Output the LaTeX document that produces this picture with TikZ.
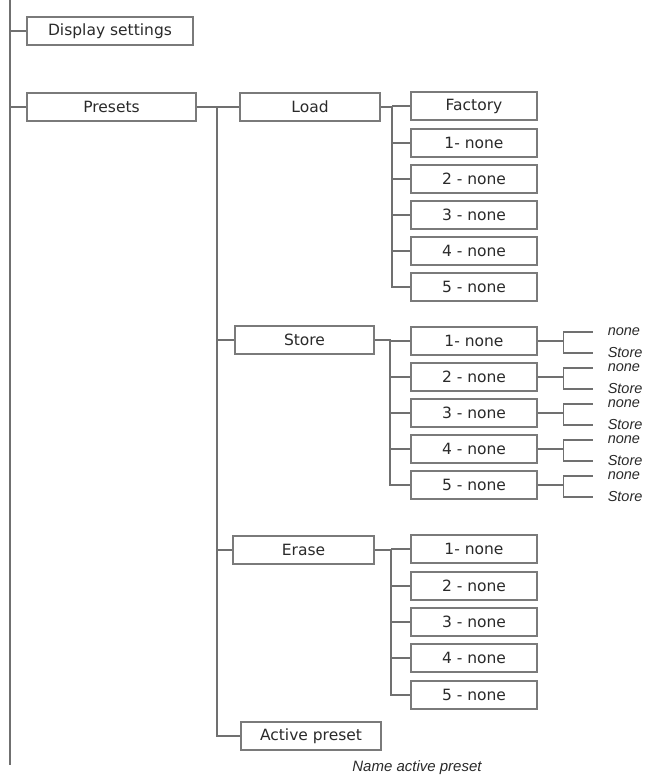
\documentclass[tikz,border=0pt]{standalone}
\usepackage{fontspec}
\setmainfont{DejaVu Sans}
\newfontfamily\itfont{Liberation Sans}
\definecolor{linegray}{HTML}{707070}
\definecolor{boxgray}{HTML}{7A7A7A}
\definecolor{txt}{HTML}{2A2A2A}
\begin{document}
\begin{tikzpicture}[x=1pt,y=-1pt,
  menubox/.style={draw=boxgray,line width=1.1pt,fill=white,minimum height=28pt,inner sep=0pt,
    font=\fontsize{15.5}{18}\selectfont,text=txt},
  conn/.style={draw=linegray,line width=1.1pt},
  itext/.style={font=\itfont\itshape\fontsize{14.5}{16}\selectfont,text=txt,inner sep=0pt,anchor=west}]
\useasboundingbox (0,0) rectangle (645,780);
% main line
\coordinate (mtop) at (10,0);
\coordinate (mbot) at (10,765);
\draw[conn] (mtop) -- (mbot);
% level 1
\node[menubox,minimum width=166pt] (disp) at (110,31) {Display settings};
\node[menubox,minimum width=169pt] (presets) at (111.5,107) {Presets};
\draw[conn] (disp.west) -- (disp.west -| mtop);
\draw[conn] (presets.west) -- (presets.west -| mtop);
% level 2
\node[menubox,minimum width=140pt] (load) at (310,107) {Load};
\node[menubox,minimum width=139pt] (store) at (304.5,340) {Store};
\node[menubox,minimum width=141pt] (erase) at (303.5,550) {Erase};
\node[menubox,minimum width=140pt] (active) at (311,736) {Active preset};
\node[font=\itfont\itshape\fontsize{15}{18}\selectfont,text=txt,inner sep=0pt] (nap) at (417,768) {Name active preset};
\coordinate (pj) at (217,107);
\draw[conn] (presets.east) -- (pj) -- (pj |- active.west) -- (active.west);
\draw[conn] (pj |- load.west) -- (load.west);
\draw[conn] (pj |- store.west) -- (store.west);
\draw[conn] (pj |- erase.west) -- (erase.west);
% load children
\node[menubox,minimum width=126pt] (lf) at (474,106) {Factory};
\node[menubox,minimum width=126pt] (l1) at (474,143) {1- none};
\node[menubox,minimum width=126pt] (l2) at (474,179) {2 - none};
\node[menubox,minimum width=126pt] (l3) at (474,215) {3 - none};
\node[menubox,minimum width=126pt] (l4) at (474,251) {4 - none};
\node[menubox,minimum width=126pt] (l5) at (474,287) {5 - none};
\coordinate (lj) at (392,107);
\draw[conn] (load.east) -- (lj) -- (lj |- l5.west) -- (l5.west);
\foreach \n in {lf,l1,l2,l3,l4} \draw[conn] (lj |- \n.west) -- (\n.west);
% store children
\node[menubox,minimum width=126pt] (s1) at (474,341) {1- none};
\node[menubox,minimum width=126pt] (s2) at (474,377) {2 - none};
\node[menubox,minimum width=126pt] (s3) at (474,413) {3 - none};
\node[menubox,minimum width=126pt] (s4) at (474,449) {4 - none};
\node[menubox,minimum width=126pt] (s5) at (474,485) {5 - none};
\coordinate (sj) at (390,340);
\draw[conn] (store.east) -- (sj) -- (sj |- s5.west) -- (s5.west);
\foreach \n in {s1,s2,s3,s4} \draw[conn] (sj |- \n.west) -- (\n.west);
\foreach \n in {s1,s2,s3,s4,s5} {
  \coordinate (\n b) at ([xshift=26pt]\n.east);
  \coordinate (\n t) at ([yshift=9pt]\n b);
  \coordinate (\n u) at ([yshift=-12pt]\n b);
  \node[itext] (\n none) at ([xshift=44pt,yshift=9.5pt]\n b) {none};
  \node[itext] (\n store) at ([xshift=44pt,yshift=-12pt]\n b) {Store};
  \draw[conn] (\n.east) -- (\n b);
  \draw[conn] ([xshift=29pt]\n t) -- (\n t) -- (\n u) -- ([xshift=29pt]\n u);
}
% erase children
\node[menubox,minimum width=126pt] (e1) at (474,549) {1- none};
\node[menubox,minimum width=126pt] (e2) at (474,586) {2 - none};
\node[menubox,minimum width=126pt] (e3) at (474,622) {3 - none};
\node[menubox,minimum width=126pt] (e4) at (474,658) {4 - none};
\node[menubox,minimum width=126pt] (e5) at (474,695) {5 - none};
\coordinate (ej) at (391,550);
\draw[conn] (erase.east) -- (ej) -- (ej |- e5.west) -- (e5.west);
\foreach \n in {e1,e2,e3,e4} \draw[conn] (ej |- \n.west) -- (\n.west);
\end{tikzpicture}
\end{document}
